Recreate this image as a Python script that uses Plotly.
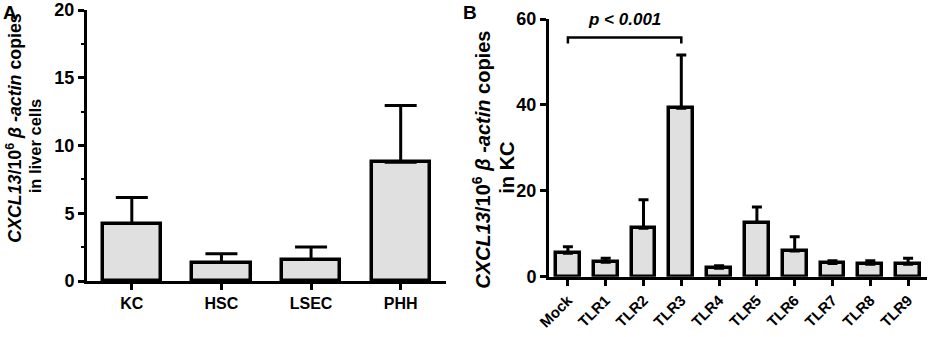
import plotly.graph_objects as go

# ---- data ----
cells = ["KC", "HSC", "LSEC", "PHH"]
cells_mean = [4.24, 1.36, 1.58, 8.77]
cells_err = [1.92, 0.66, 0.93, 4.18]

tlr = ["Mock", "TLR1", "TLR2", "TLR3", "TLR4", "TLR5", "TLR6", "TLR7", "TLR8", "TLR9"]
tlr_mean = [5.45, 3.35, 11.3, 39.2, 1.95, 12.6, 6.0, 3.1, 2.9, 2.9]
tlr_err = [1.55, 0.93, 6.6, 12.4, 0.61, 3.6, 3.3, 0.6, 0.8, 1.4]

a_ticks = [0, 5, 10, 15, 20]
b_ticks = [0, 20, 40, 60]
p_text = "p < 0.001"

FONT = "Liberation Sans"
W, H = 930, 337

fig = go.Figure()

fig.add_trace(go.Bar(
    x=cells, y=cells_mean, width=0.65,
    marker=dict(color="#e0e0e0", line=dict(color="black", width=3.5)),
    error_y=dict(type="data", symmetric=False, array=cells_err,
                 arrayminus=[0] * len(cells_err), thickness=3, width=16, color="black"),
    xaxis="x", yaxis="y", showlegend=False,
))
fig.add_trace(go.Bar(
    x=tlr, y=tlr_mean, width=0.63,
    marker=dict(color="#e0e0e0", line=dict(color="black", width=3.5)),
    error_y=dict(type="data", symmetric=False, array=tlr_err,
                 arrayminus=[0] * len(tlr_err), thickness=3, width=5, color="black"),
    xaxis="x2", yaxis="y2", showlegend=False,
))

tick_font = dict(family=FONT, size=18, color="black", weight="bold")
common = dict(showline=True, linewidth=3, linecolor="black", ticks="outside",
              ticklen=6, tickwidth=2.5, tickcolor="black", showgrid=False,
              zeroline=False, automargin=False)

fig.update_layout(
    width=W, height=H,
    margin=dict(l=0, r=0, t=0, b=0, pad=0),
    paper_bgcolor="white", plot_bgcolor="white",
    bargap=0,
    xaxis=dict(domain=[87 / W, 445.5 / W], anchor="y", type="category",
               range=[-0.5, 3.5],
               tickfont=dict(family=FONT, size=16, color="black", weight="bold"), **common),
    yaxis=dict(domain=[(H - 281) / H, (H - 10) / H], anchor="x", range=[0, 20],
               tickvals=a_ticks,
               minor=dict(dtick=2.5, ticks="outside", ticklen=3.5, tickwidth=2, tickcolor="black"),
               tickfont=tick_font, **common),
    xaxis2=dict(domain=[549 / W, 927 / W], anchor="y2", type="category",
                range=[-0.5, 9.5], tickangle=-45,
                tickfont=dict(family=FONT, size=15, color="black", weight="bold"), **common),
    yaxis2=dict(domain=[(H - 276.7) / H, (H - 19) / H], anchor="x2", range=[0, 60],
                tickvals=b_ticks, tickfont=tick_font, **common),
)

# significance bracket (data coords of panel B)
br_y, br_tip = 55.7, 54.3
fig.add_shape(type="path", xref="x2", yref="y2",
              path=f"M 0,{br_tip} L 0,{br_y} L 3,{br_y} L 3,{br_tip}",
              line=dict(color="black", width=2.5))
fig.add_annotation(x=1.5, y=59.8, xref="x2", yref="y2", text=f"<b><i>{p_text}</i></b>",
                   showarrow=False, font=dict(family=FONT, size=17, color="black"),
                   xanchor="center", yanchor="middle")

title1 = "<b><i>CXCL13</i>/10<sup>6</sup> <i>β -actin</i> copies</b>"

def ann(x, y, text, size, angle=-90):
    fig.add_annotation(x=x / W, y=(H - y) / H, xref="paper", yref="paper", text=text,
                       showarrow=False, textangle=angle, xanchor="center", yanchor="middle",
                       font=dict(family=FONT, size=size, color="black"))

ann(13.2, 127.5, title1, 17.8)
ann(35.3, 146, "<b>in liver cells</b>", 16.5)
ann(480.7, 160, title1, 20)
ann(506.7, 168, "<b>in KC</b>", 20)
ann(10, 12, "<b>A</b>", 19, angle=0)
ann(470, 12, "<b>B</b>", 19, angle=0)

fig.write_html("out.html", config={"displayModeBar": False},
               post_script="document.body.style.margin='0px';document.body.style.overflow='hidden';")
